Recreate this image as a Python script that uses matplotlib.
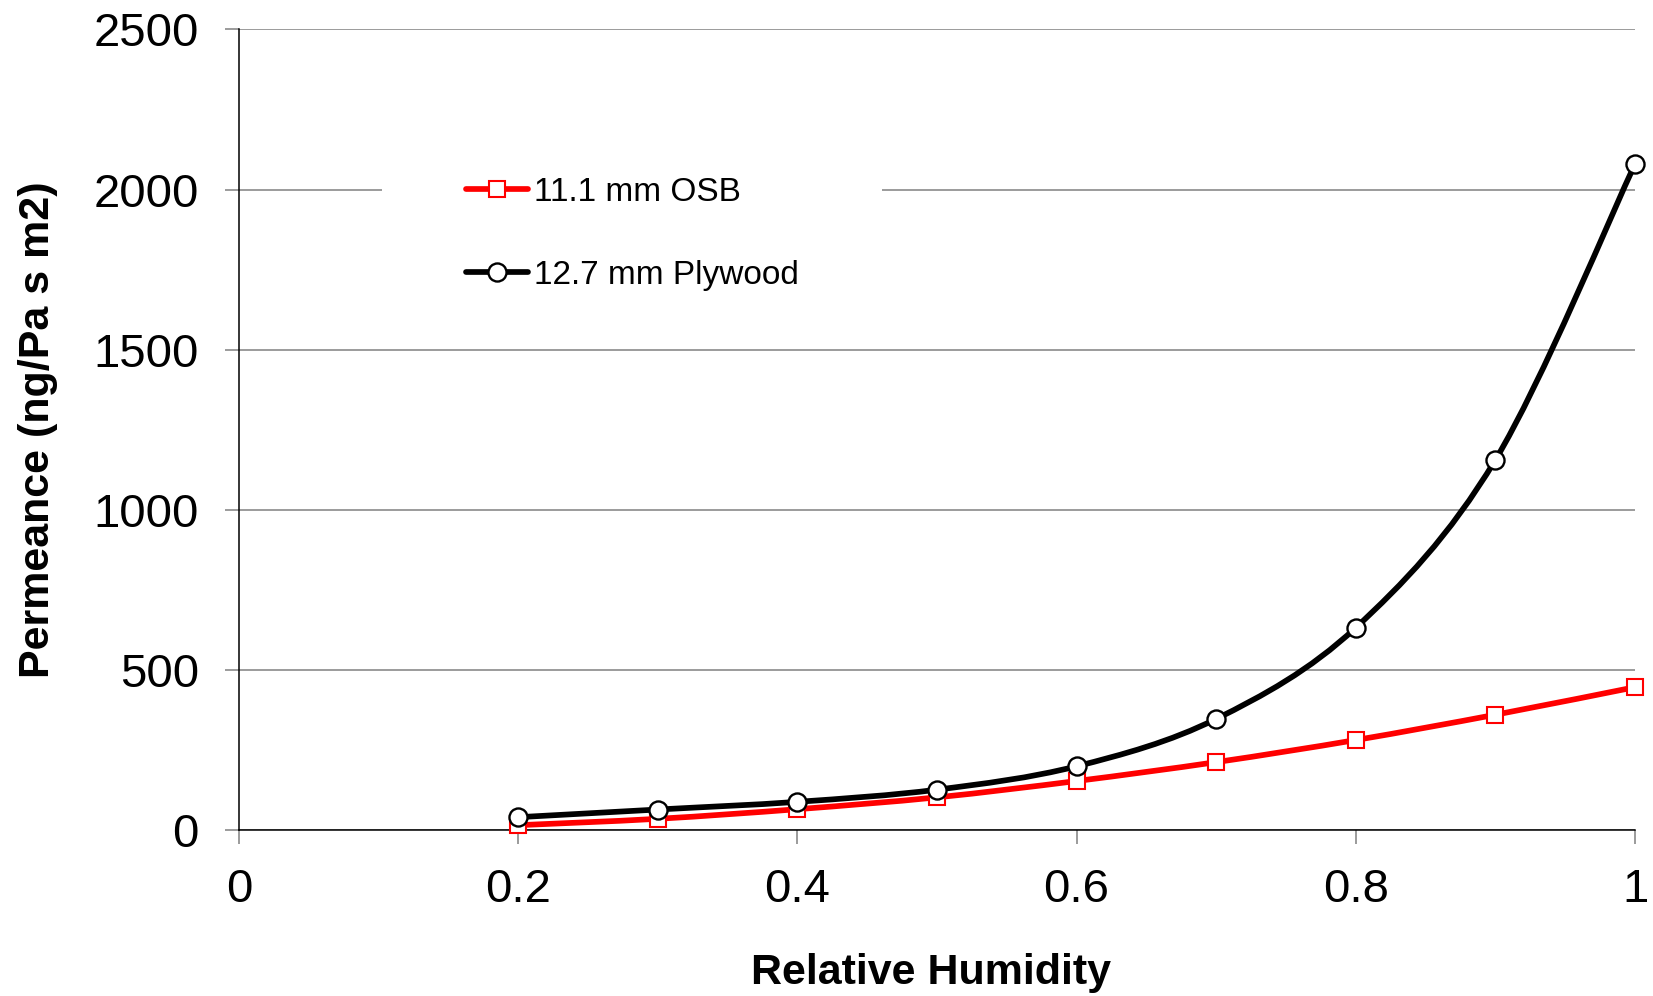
import matplotlib
matplotlib.use("Agg")
import matplotlib.pyplot as plt
import numpy as np
from matplotlib.path import Path
from matplotlib.patches import PathPatch, Rectangle
from matplotlib.lines import Line2D
from matplotlib.ticker import FuncFormatter

plt.rcParams['font.family'] = ['Liberation Sans', 'DejaVu Sans']

# values
rh = [0.2, 0.3, 0.4, 0.5, 0.6, 0.7, 0.8, 0.9, 1.0]
osb = [15, 35, 65, 102, 153, 212, 281, 360, 446]
plywood = [40, 64, 88, 126, 199, 347, 632, 1156, 2080]
series_names = ["11.1 mm OSB", "12.7 mm Plywood"]
y_ticks = [0, 500, 1000, 1500, 2000, 2500]
x_ticks = [0, 0.2, 0.4, 0.6, 0.8, 1.0]


def smooth_path(xs, ys):
    # Excel-like smoothed line: cubic bezier segments through the data points
    pts = np.column_stack([xs, ys]).astype(float)
    n = len(pts)
    verts = [pts[0]]
    codes = [Path.MOVETO]
    for i in range(n - 1):
        p0 = pts[max(i - 1, 0)]
        p1 = pts[i]
        p2 = pts[i + 1]
        p3 = pts[min(i + 2, n - 1)]
        c1 = p1 + (p2 - p0) / 6.0
        c2 = p2 - (p3 - p1) / 6.0
        verts += [c1, c2, p2]
        codes += [Path.CURVE4] * 3
    return Path(verts, codes)


fig = plt.figure(figsize=(16.53, 9.96), dpi=100)
ax = fig.add_axes([239 / 1653, 1 - 830 / 996, 1396 / 1653, 800.5 / 996])

grey = '#808080'
ax.set_xlim(0, 1)
ax.set_ylim(0, 2500)
ax.set_yticks(y_ticks)
ax.set_xticks(x_ticks)
ax.xaxis.set_major_formatter(FuncFormatter(lambda v, p: ('%g' % v)))
ax.grid(axis='y', color=grey, linewidth=1.1)
ax.set_axisbelow(True)
for s in ['top', 'right']:
    ax.spines[s].set_visible(False)
for s in ['left', 'bottom']:
    ax.spines[s].set_color('black')
    ax.spines[s].set_linewidth(1.1)
ax.tick_params(axis='both', direction='out', length=10, width=1.1, color=grey,
               labelsize=34)
ax.tick_params(axis='x', pad=17)
ax.tick_params(axis='y', pad=19)

# OSB
ax.add_patch(PathPatch(smooth_path(rh, osb), fill=False, edgecolor='#ff0000',
                       linewidth=4.1, zorder=3, capstyle='round'))
ax.plot(rh, osb, linestyle='none', marker='s', markersize=11.5,
        markerfacecolor='white', markeredgecolor='#ff0000', markeredgewidth=1.5,
        zorder=4, clip_on=False)

# Plywood
ax.add_patch(PathPatch(smooth_path(rh, plywood), fill=False, edgecolor='black',
                       linewidth=4.1, zorder=5, capstyle='round'))
ax.plot(rh, plywood, linestyle='none', marker='o', markersize=13,
        markerfacecolor='white', markeredgecolor='black', markeredgewidth=1.7,
        zorder=6, clip_on=False)

ax.set_xlabel("Relative Humidity", fontsize=31, fontweight='bold')
ax.set_ylabel("Permeance (ng/Pa s m2)", fontsize=31, fontweight='bold')
ax.xaxis.label.set_va('center')
ax.yaxis.label.set_va('center')
ax.xaxis.set_label_coords(0.496, -0.179)
ax.yaxis.set_label_coords(-0.144, 0.5)

# white legend area that hides the 2000 gridline
ax.add_patch(Rectangle((382 / 1653, 1 - 310 / 996), 500 / 1653, 210 / 996,
                       transform=fig.transFigure, facecolor='white',
                       edgecolor='none', zorder=1))

handles = [
    Line2D([], [], color='#ff0000', linewidth=4.1, marker='s', markersize=11.5,
           markerfacecolor='white', markeredgecolor='#ff0000', markeredgewidth=1.5,
           solid_capstyle='round'),
    Line2D([], [], color='black', linewidth=4.1, marker='o', markersize=13,
           markerfacecolor='white', markeredgecolor='black', markeredgewidth=1.7,
           solid_capstyle='round'),
]
leg = ax.legend(handles, series_names, loc='upper left',
                bbox_to_anchor=(466 / 1653, 1 - 177 / 996),
                bbox_transform=fig.transFigure, fontsize=24, frameon=False,
                borderpad=0, handlelength=1.85, handletextpad=0.2,
                labelspacing=1.55, borderaxespad=0)

fig.savefig("out.png", dpi=100, facecolor='white')
